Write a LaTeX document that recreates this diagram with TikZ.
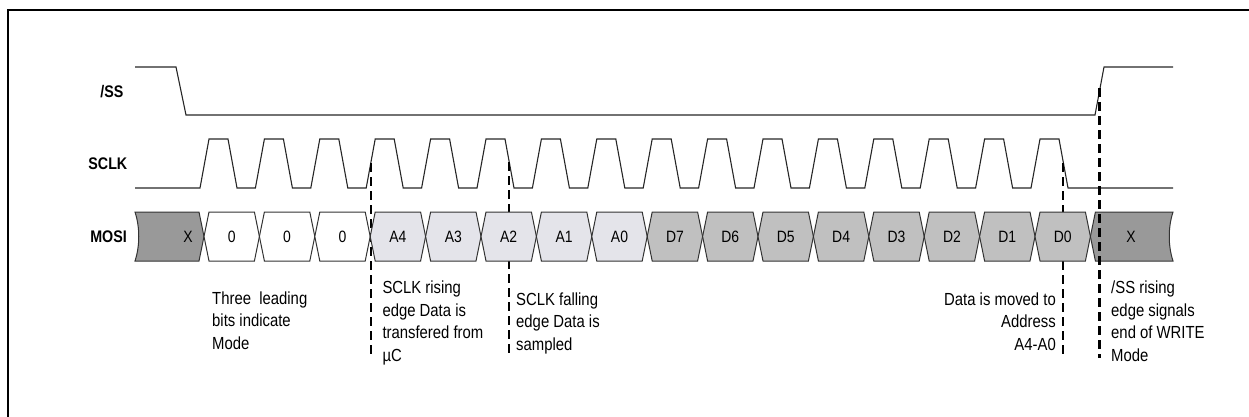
\documentclass[tikz,border=0pt]{standalone}
\usepackage{fontspec}
\setmainfont{Liberation Sans}[FakeStretch=0.85]
\definecolor{bitX}{RGB}{153,153,153}
\definecolor{bitA}{RGB}{228,228,234}
\definecolor{bitD}{RGB}{192,192,192}
\tikzset{
  signame/.style={anchor=east, inner sep=0pt, font=\bfseries\fontsize{16.8}{18}\selectfont},
  note/.style={anchor=north west, align=left, inner sep=0pt, font=\fontsize{17.5}{22.7}\selectfont},
  cellbox/.style={draw=black!80, line width=1pt},
  celltext/.style={inner sep=0pt, font=\fontsize{16.4}{18}\selectfont},
  wave/.style={line width=1.1pt, draw=black!85},
  marker/.style={line width=2.3pt, dash pattern=on 9pt off 5pt},
}
\begin{document}
\begin{tikzpicture}[x=1pt,y=-1pt]
\useasboundingbox (0,0) rectangle (1249,417);
\draw [line width=2.2pt] (7.7,417) -- (7.7,10) -- (1249,10);

% signal names
\node [signame] (ss) at (123.5,91.5) {/SS};
\node [signame] (sclk) at (127.5,163.5) {SCLK};
\node [signame] (mosi) at (127,236.5) {MOSI};

% /SS and SCLK
\draw [wave] (135,67) -- (176,67) -- (186,115) -- (1095,115) -- (1104,67) -- (1173,67);
\draw [wave] (135,188) \foreach \n in {0,...,15} { -- ({200+55.4*\n},188) -- ({209+55.4*\n},139) -- ({228+55.4*\n},139) -- ({237+55.4*\n},188)} -- (1173,188);

% edges that are marked
\coordinate (rise) at (370.7,163);
\coordinate (riseend) at (370.7,356);
\coordinate (fall) at (509,162);
\coordinate (fallend) at (509,353);
\coordinate (last) at (1062.7,163);
\coordinate (lastend) at (1062.7,355);
\coordinate (ssup) at (1099.4,88);
\coordinate (ssupend) at (1099.4,358);
\draw [marker] (rise) -- (riseend);
\draw [marker] (fall) -- (fallend);
\draw [marker] (last) -- (lastend);

% MOSI
\draw [cellbox, fill=bitX] (135,212) -- (199,212) -- (204,236.5) -- (199,261) -- (135,261) .. controls (140,246) and (140,227) .. (135,212) -- cycle;
\node [celltext] (x0) at (188,237) {X};
\foreach \lab/\col [count=\i from 0] in {0/white,0/white,0/white,A4/bitA,A3/bitA,A2/bitA,A1/bitA,A0/bitA,D7/bitD,D6/bitD,D5/bitD,D4/bitD,D3/bitD,D2/bitD,D1/bitD,D0/bitD} {
  \pgfmathsetmacro\ta{204+55.4*\i}
  \pgfmathsetmacro\tb{259.4+55.4*\i}
  \draw [cellbox, fill=\col] (\ta,236.5) -- (\ta+5,212) -- (\tb-5,212) -- (\tb,236.5) -- (\tb-5,261) -- (\ta+5,261) -- cycle;
  \node [celltext] (bit\i) at ({(\ta+\tb)/2},237) {\lab};
}
\draw [cellbox, fill=bitX] (1090.4,236.5) -- (1095.4,212) -- (1173,212) .. controls (1168,227) and (1168,246) .. (1173,261) -- (1095.4,261) -- cycle;
\node [celltext] (x1) at (1131,237) {X};
\draw [marker] (ssup) -- (ssupend);

% notes
\node [note] (mode) at (212,291.2) {Three\ \ leading\\bits indicate\\Mode};
\node [note] (send) at (382.3,280.5) {SCLK rising\\edge Data is\\transfered from\\µC};
\node [note] (sample) at (516,292.2) {SCLK falling\\edge Data is\\sampled};
\node [note, anchor=north east, align=right] (move) at (1056,292.2) {Data is moved to\\Address\\A4-A0};
\node [note] (stop) at (1111,280.5) {/SS rising\\edge signals\\end of WRITE\\Mode};
\end{tikzpicture}
\end{document}
